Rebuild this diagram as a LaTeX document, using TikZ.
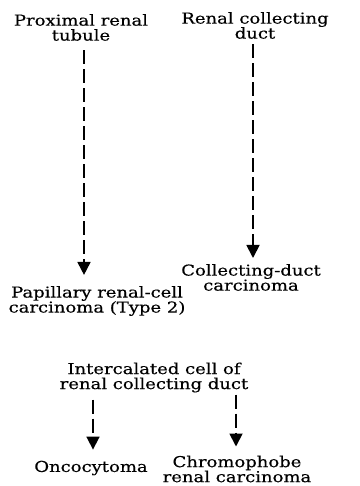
\documentclass[tikz,border=0pt]{standalone}
\usepackage{fontspec}
\setmainfont{DejaVu Serif}[FakeStretch=1.2,FakeBold=0.4]
\usetikzlibrary{arrows.meta}
\begin{document}
\begin{tikzpicture}[x=1pt,y=-1pt,
  lbl/.style={align=center,inner sep=0pt,font=\fontsize{15}{15}\selectfont},
  arr/.style={line width=1.8pt,dash pattern=on 14pt off 5pt,-{Triangle[width=13pt,length=13pt]}}]
\useasboundingbox (0,0) rectangle (359,486);
\node[lbl] (A) at (81,27.5) {Proximal renal\\tubule};
\node[lbl] (B) at (255,25.5) {Renal collecting\\duct};
\node[lbl] (C) at (251,277.5) {Collecting-duct\\carcinoma};
\node[lbl] (D) at (97,301) {Papillary renal-cell\\carcinoma (Type 2)};
\node[lbl] (E) at (154,377.5) {Intercalated cell of\\renal collecting duct};
\node[lbl] (F) at (91,468) {Oncocytoma};
\node[lbl] (G) at (237,469) {Chromophobe\\renal carcinoma};
\coordinate (xa) at (84,0);
\coordinate (xb) at (253,0);
\coordinate (xe) at (93,0);
\coordinate (xg) at (236,0);
\draw[arr] ([yshift=-9pt]A.south -| xa) -- ([yshift=11pt]D.north -| xa);
\draw[arr] ([yshift=-5pt]B.south -| xb) -- ([yshift=6pt]C.north -| xb);
\draw[arr] ([yshift=-7pt]E.south -| xe) -- ([yshift=11pt]F.north -| xe);
\draw[arr] ([yshift=-2pt]E.south -| xg) -- ([yshift=9pt]G.north -| xg);
\end{tikzpicture}
\end{document}
